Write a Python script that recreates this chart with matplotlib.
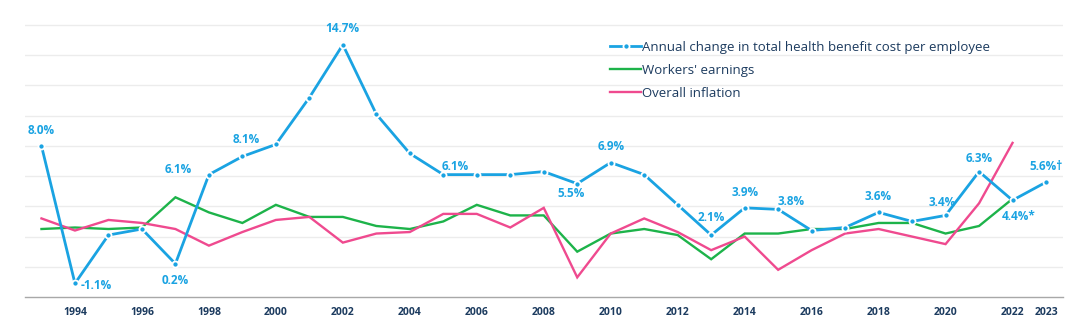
import matplotlib
matplotlib.use("Agg")
import matplotlib.pyplot as plt
import numpy as np

# annual % change, 1993-2023
years = list(range(1993, 2024))
health_cost = [8.0, -1.1, 2.1, 2.5, 0.2, 6.1, 7.3, 8.1, 11.2, 14.7,
               10.1, 7.5, 6.1, 6.1, 6.1, 6.3, 5.5, 6.9, 6.1, 4.1,
               2.1, 3.9, 3.8, 2.4, 2.6, 3.6, 3.0, 3.4, 6.3, 4.4, 5.6]
# earnings and inflation stop at 2022
earnings = [2.5, 2.6, 2.5, 2.6, 4.6, 3.6, 2.9, 4.1, 3.3, 3.3,
            2.7, 2.5, 3.0, 4.1, 3.4, 3.4, 1.0, 2.2, 2.5, 2.1,
            0.5, 2.2, 2.2, 2.5, 2.5, 2.9, 2.9, 2.2, 2.7, 4.5]
inflation = [3.2, 2.4, 3.1, 2.9, 2.5, 1.4, 2.3, 3.1, 3.3, 1.6,
             2.2, 2.3, 3.5, 3.5, 2.6, 3.9, -0.7, 2.2, 3.2, 2.3,
             1.1, 2.0, -0.2, 1.1, 2.2, 2.5, 2.0, 1.5, 4.2, 8.2]

tick_years = list(range(1994, 2023, 2)) + [2023]

# labelled points: year -> suffix
labelled = {1993: "", 1994: "", 1997: "", 1998: "", 2000: "", 2002: "",
            2005: "", 2009: "", 2010: "", 2013: "", 2014: "", 2015: "",
            2018: "", 2020: "", 2021: "", 2022: "*", 2023: "\u2020"}
# label offsets in pixels (dx, dy)
label_offsets = {1993: (0, 15), 1994: (21, -2), 1997: (0, -17), 1998: (-31, 5),
                 2000: (-30, 5), 2002: (0, 16), 2005: (12, 8), 2009: (-6, -10),
                 2010: (0, 16), 2013: (0, 18), 2014: (0, 15), 2015: (13, 8),
                 2018: (0, 16), 2020: (-3, 13), 2021: (0, 13), 2022: (6, -16),
                 2023: (0, 16)}

BLUE = "#1aa3e2"
GREEN = "#1db34a"
PINK = "#ef4a8f"
NAVY = "#1c3b5f"
FONT = ["Open Sans", "DejaVu Sans"]

fig = plt.figure(figsize=(10.85, 3.3), dpi=100)
ax = fig.add_axes([0.0228, 0.1, 0.9567, 0.847])

ax.plot(years[:len(earnings)], earnings, color=GREEN, lw=1.7,
        solid_joinstyle="miter", label="Workers' earnings", zorder=3)
ax.plot(years[:len(inflation)], inflation, color=PINK, lw=1.7,
        solid_joinstyle="miter", label="Overall inflation", zorder=4)
ax.plot(years, health_cost, color=BLUE, lw=2.0, marker="o", ms=4.4,
        mec="white", mew=1.3, mfc=BLUE, solid_joinstyle="miter",
        label="Annual change in total health benefit cost per employee",
        zorder=5)

px = 72 / fig.dpi
for yr, suffix in labelled.items():
    v = health_cost[years.index(yr)]
    dx, dy = label_offsets[yr]
    ax.annotate(f"{v:.1f}%{suffix}", (yr, v), xytext=(dx * px, dy * px),
                textcoords="offset points", ha="center", va="center",
                fontsize=8.5, fontweight="bold", color=BLUE, family=FONT,
                zorder=6)

ax.set_xlim(1992.5, 2023.5)
ax.set_ylim(-2, 16.5)
ax.set_yticks(np.arange(0, 17, 2))
ax.set_yticklabels([])
ax.grid(axis="y", color="#ececec", lw=1)
ax.set_axisbelow(True)
ax.set_xticks(tick_years)
ax.set_xticklabels([str(y) for y in tick_years], fontsize=7.5,
                   fontweight="bold", color=NAVY, family=FONT)
ax.tick_params(axis="both", length=0)
ax.tick_params(axis="x", pad=7)
for side in ["top", "right", "left"]:
    ax.spines[side].set_visible(False)
ax.spines["bottom"].set_color("#a8a8a8")
ax.spines["bottom"].set_linewidth(1)

handles, labels = ax.get_legend_handles_labels()
order = [2, 0, 1]
leg = ax.legend([handles[i] for i in order], [labels[i] for i in order],
                loc="upper left", bbox_to_anchor=(0.5592, 0.935),
                frameon=False, numpoints=1, handlelength=2.3,
                handletextpad=0.1, labelspacing=0.75, borderaxespad=0,
                prop={"family": FONT, "size": 9.5})
for t in leg.get_texts():
    t.set_color(NAVY)

fig.savefig("out.png", dpi=100, facecolor="white")
